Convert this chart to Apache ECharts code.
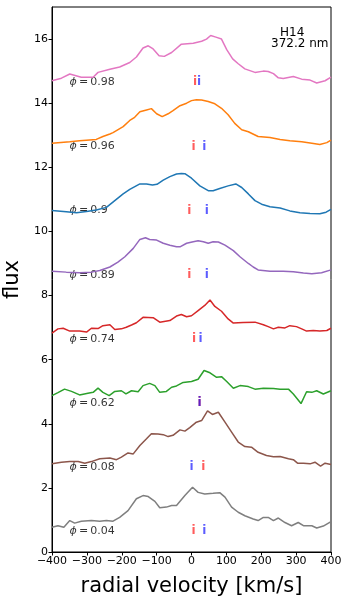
<!DOCTYPE html>
<html>
<head>
<meta charset="utf-8">
<script src="https://cdn.jsdelivr.net/npm/echarts@6/dist/echarts.min.js"></script>
<style>
  html, body { margin: 0; padding: 0; background: #fff; }
  #main { width: 350px; height: 601px; }
</style>
</head>
<body>
<div id="main"></div>
<script>
// phases, top to bottom
const phases = ["0.98", "0.96", "0.9", "0.89", "0.74", "0.62", "0.08", "0.04"];
const colors = ["#e377c2", "#ff7f0e", "#1f77b4", "#9467bd", "#d62728", "#2ca02c", "#8c564b", "#7f7f7f"];
const labelY = [14.65, 12.65, 10.65, 8.65, 6.65, 4.65, 2.65, 0.65];
// "i" markers (radial velocity of the two components)
const redV = [10, 6, -6, -6, 7, 23, 34, 6];
const blueV = [22, 37, 44, 44, 26, 23, 0, 37];

const v98 = [-400,-373,-349,-316,-282,-268,-234,-206,-177,-158,-139,-124,-110,-93,-78,-57,-29,5,29,43,55,70,86,101,118,134,153,182,206,220,235,249,263,292,316,340,359,383,400];
const f98 = [14.70,14.78,14.91,14.81,14.81,14.96,15.06,15.13,15.27,15.44,15.72,15.79,15.69,15.48,15.46,15.58,15.84,15.87,15.93,16.0,16.11,16.06,16.0,15.67,15.38,15.23,15.07,14.96,15.0,14.99,14.92,14.79,14.77,14.83,14.75,14.72,14.63,14.70,14.81];

const v96 = [-400,-349,-321,-273,-254,-234,-225,-196,-177,-163,-148,-129,-115,-100,-84,-67,-53,-33,-14,0,14,29,48,67,86,105,124,144,163,191,225,254,282,316,345,368,388,400];
const f96 = [12.75,12.80,12.83,12.87,12.96,13.04,13.08,13.27,13.46,13.56,13.73,13.79,13.83,13.67,13.58,13.67,13.77,13.92,14.0,14.08,14.11,14.10,14.05,13.98,13.84,13.64,13.37,13.17,13.11,12.96,12.93,12.87,12.83,12.80,12.75,12.71,12.77,12.85];

const v90 = [-400,-359,-330,-301,-273,-244,-220,-196,-177,-148,-129,-112,-99,-81,-62,-43,-29,-19,0,24,48,62,81,105,127,144,163,182,201,225,254,282,311,340,368,386,400];
const f90 = [10.65,10.61,10.58,10.62,10.67,10.75,10.96,11.17,11.31,11.48,11.48,11.45,11.47,11.60,11.71,11.79,11.81,11.80,11.66,11.42,11.27,11.27,11.34,11.42,11.48,11.37,11.17,10.96,10.85,10.77,10.73,10.64,10.58,10.56,10.55,10.60,10.69];

const v89 = [-400,-359,-321,-287,-263,-234,-211,-191,-167,-148,-132,-120,-100,-81,-62,-43,-33,-14,5,19,34,48,62,77,96,120,139,163,177,191,225,263,292,321,345,373,400];
const f89 = [8.76,8.73,8.71,8.73,8.78,8.89,9.04,9.21,9.47,9.75,9.80,9.75,9.73,9.63,9.57,9.52,9.52,9.63,9.68,9.71,9.68,9.63,9.68,9.67,9.57,9.40,9.21,9.0,8.89,8.80,8.76,8.76,8.74,8.70,8.68,8.71,8.80];

const v74 = [-400,-383,-368,-349,-321,-301,-287,-268,-254,-234,-220,-201,-187,-172,-158,-139,-110,-91,-62,-43,-29,-14,0,19,38,53,67,86,105,120,148,182,206,220,235,249,268,282,301,316,330,349,368,388,400];
const f74 = [6.83,6.96,6.98,6.89,6.89,6.86,6.98,6.97,7.06,7.09,6.94,6.96,7.01,7.08,7.15,7.32,7.31,7.17,7.22,7.36,7.41,7.34,7.37,7.53,7.69,7.86,7.66,7.51,7.27,7.14,7.16,7.17,7.09,7.03,6.96,7.01,6.99,7.06,7.03,6.96,6.89,6.91,6.89,6.91,6.98];

const v62 = [-400,-383,-364,-344,-321,-297,-282,-268,-254,-236,-220,-201,-188,-172,-153,-139,-120,-105,-91,-72,-57,-43,-24,0,19,36,53,72,86,101,120,139,163,182,206,235,254,278,292,314,330,345,359,378,400];
const f62 = [4.88,4.97,5.08,5.01,4.90,4.95,4.98,5.11,4.98,4.88,5.01,5.03,4.93,5.03,5.0,5.19,5.26,5.19,4.98,5.01,5.14,5.18,5.29,5.32,5.39,5.66,5.59,5.45,5.47,5.32,5.11,5.19,5.16,5.08,5.11,5.10,5.08,5.08,4.93,4.63,5.0,4.98,5.03,4.93,5.03];

const v08 = [-400,-373,-349,-325,-306,-287,-263,-234,-215,-201,-182,-167,-148,-129,-115,-96,-81,-67,-53,-33,-19,-5,14,29,46,60,77,96,115,134,153,172,191,215,235,254,278,292,304,321,340,354,370,383,400];
const f08 = [2.75,2.80,2.82,2.82,2.77,2.82,2.91,2.93,2.88,2.96,3.09,3.06,3.32,3.53,3.69,3.68,3.66,3.60,3.64,3.81,3.77,3.88,4.05,4.10,4.40,4.29,4.36,4.05,3.74,3.43,3.29,3.27,3.11,3.01,2.97,2.98,2.91,2.88,2.77,2.77,2.75,2.80,2.68,2.77,2.73];

const v04 = [-400,-383,-366,-349,-335,-316,-287,-263,-244,-225,-206,-182,-158,-139,-124,-105,-91,-72,-57,-43,-19,3,19,38,62,81,96,115,134,153,177,191,206,220,235,249,268,287,306,321,345,359,378,400];
const f04 = [0.77,0.82,0.77,0.98,0.90,0.96,0.98,0.96,0.98,0.96,1.08,1.29,1.66,1.76,1.73,1.58,1.38,1.40,1.45,1.45,1.76,2.02,1.86,1.81,1.83,1.85,1.71,1.40,1.24,1.13,1.03,0.98,1.08,1.08,0.98,1.06,0.92,0.82,0.92,0.82,0.82,0.75,0.81,0.95];

const velocities = [v98, v96, v90, v89, v74, v62, v08, v04];
const fluxes = [f98, f96, f90, f89, f74, f62, f08, f04];

const xTicks = [-400, -300, -200, -100, 0, 100, 200, 300, 400];
const yTicks = [0, 2, 4, 6, 8, 10, 12, 14, 16];

const font = "DejaVu Sans";
const zip = (a, b) => a.map((x, i) => [x, b[i]]);

const series = [];
phases.forEach((p, k) => {
  series.push({
    type: "line",
    data: zip(velocities[k], fluxes[k]),
    showSymbol: false,
    symbol: "none",
    lineStyle: { color: colors[k], width: 1.5 },
    silent: true,
  });
});
// phase labels
series.push({
  type: "scatter",
  symbolSize: 0,
  silent: true,
  data: phases.map((p, k) => ({ value: [-350, labelY[k]], name: p })),
  label: {
    show: true,
    position: "right",
    distance: 0,
    formatter: (d) => "{p|ϕ}\u2009=\u2009" + d.name,
    color: "#000",
    fontFamily: font,
    fontSize: 11,
    rich: { p: { fontStyle: "italic", fontFamily: font, fontSize: 11, color: "#000" } },
  },
  labelLayout: { hideOverlap: false },
});
// component markers
[[redV, "rgba(255,0,0,0.8)"], [blueV, "rgba(0,0,255,0.8)"]].forEach(([vs, c]) => {
  series.push({
    type: "scatter",
    symbolSize: 0,
    silent: true,
    data: vs.map((v, k) => [v, labelY[k]]),
    label: {
      show: true,
      position: "inside",
      formatter: "i",
      color: c,
      fontFamily: font,
      fontWeight: "bold",
      fontSize: 12,
    },
    labelLayout: { hideOverlap: false },
  });
});

const myChart = echarts.init(document.getElementById("main"));
myChart.setOption({
  animation: false,
  grid: {
    left: 52, right: 19, top: 7, bottom: 49,
    outerBoundsMode: "none",
    containLabel: false,
    show: true, borderColor: "#000", borderWidth: 1,
  },
  xAxis: {
    type: "value",
    min: -400, max: 400, interval: 100,
    name: "radial velocity [km/s]",
    nameLocation: "middle",
    nameGap: 24,
    nameTextStyle: { fontFamily: font, fontSize: 21, color: "#000" },
    splitLine: { show: false },
    axisLine: { onZero: false, lineStyle: { color: "#000" } },
    axisTick: { inside: false, length: 3.5, lineStyle: { color: "#000" }, customValues: xTicks },
    axisLabel: {
      color: "#000", fontFamily: font, fontSize: 11, margin: 4,
      customValues: xTicks,
      formatter: (v) => String(v).replace("-", "\u2212"),
    },
  },
  yAxis: {
    type: "value",
    min: 0, max: 17,
    name: "flux",
    nameLocation: "middle",
    nameGap: 21,
    nameRotate: 90,
    nameTextStyle: { fontFamily: font, fontSize: 21, color: "#000" },
    splitLine: { show: false },
    axisLine: { show: true, onZero: false, lineStyle: { color: "#000" } },
    axisTick: { show: true, length: 3.5, lineStyle: { color: "#000" }, customValues: yTicks },
    axisLabel: { color: "#000", fontFamily: font, fontSize: 11, margin: 4, customValues: yTicks },
  },
  graphic: [
    { type: "text", left: 280, top: 27, style: { text: "H14", font: "12px DejaVu Sans", fill: "#000" } },
    { type: "text", left: 271, top: 38, style: { text: "372.2 nm", font: "12px DejaVu Sans", fill: "#000" } },
  ],
  series: series,
});
</script>
</body>
</html>
